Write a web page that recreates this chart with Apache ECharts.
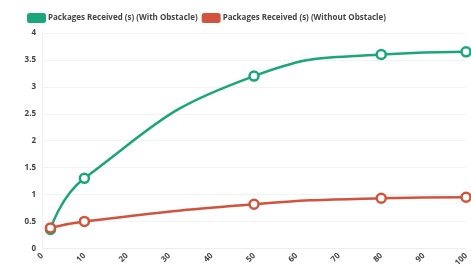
<!DOCTYPE html>
<html><head><meta charset="utf-8">
<script src="https://cdn.jsdelivr.net/npm/echarts@6/dist/echarts.min.js"></script>
<style>html,body{margin:0;padding:0;background:#fff}#c{width:471px;height:269px}</style>
</head><body><div id="c"></div>
<script>
const seriesNames = ['Packages Received (s) (With Obstacle)', 'Packages Received (s) (Without Obstacle)'];
const xValues = [2, 10, 50, 80, 100];
const withObstacle = [0.35, 1.3, 3.2, 3.6, 3.65];
const withoutObstacle = [0.38, 0.5, 0.82, 0.93, 0.95];
const colors = ['#1aa67a', '#d2533c'];

const pair = (xs, ys) => xs.map((x, i) => [x, ys[i]]);
const chart = echarts.init(document.getElementById('c'), null, {renderer: 'canvas'});
const labelStyle = {color: '#444', fontSize: 8, fontWeight: 'bold', fontFamily: 'Open Sans'};
const mkSeries = (i, ys) => ({
  name: seriesNames[i], type: 'line', smooth: true, data: pair(xValues, ys),
  symbol: 'circle', symbolSize: 9,
  lineStyle: {width: 2.5, color: colors[i]},
  itemStyle: {color: '#fff', borderColor: colors[i], borderWidth: 2.5},
  emphasis: {disabled: true}
});
chart.setOption({
  animation: false,
  color: colors,
  legend: {
    left: 22, top: 8, itemWidth: 19, itemHeight: 10, itemGap: 4,
    textStyle: {color: '#444', fontSize: 8, fontWeight: 'bold', fontFamily: 'Open Sans', padding: [0, 0, 0, -3]},
    data: seriesNames.map((n, i) => ({name: n, icon: 'roundRect',
      itemStyle: {color: colors[i], borderWidth: 0}}))
  },
  grid: {left: 42, right: -1, top: 33, bottom: 19},
  xAxis: {
    type: 'value', min: 0, max: 100, interval: 10,
    axisLine: {show: true, lineStyle: {color: '#eee'}},
    axisTick: {show: false},
    splitLine: {show: false},
    axisLabel: Object.assign({rotate: 45, margin: 6}, labelStyle)
  },
  yAxis: {
    type: 'value', min: 0, max: 4, interval: 0.5,
    axisLine: {show: true, lineStyle: {color: '#f0f0f0'}},
    axisTick: {show: false},
    splitLine: {show: true, lineStyle: {color: '#f3f3f3'}},
    axisLabel: Object.assign({margin: 6}, labelStyle)
  },
  series: [mkSeries(0, withObstacle), mkSeries(1, withoutObstacle)]
});
</script></body></html>
